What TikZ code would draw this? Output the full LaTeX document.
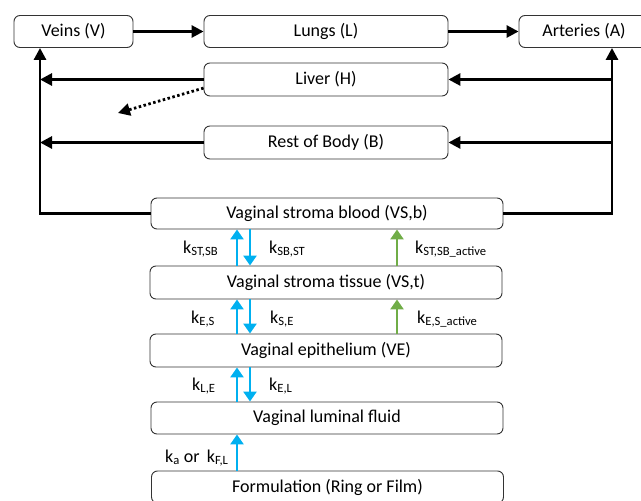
\documentclass[tikz,border=0pt]{standalone}
\usepackage{fontspec}
\setmainfont{Carlito}
\usetikzlibrary{arrows.meta}
\definecolor{transferblue}{RGB}{0,176,240}
\definecolor{activegreen}{RGB}{112,173,71}
\begin{document}
\begin{tikzpicture}[x = 1pt, y = -1pt, line join = miter,
        compartment/.style={draw = black!80, line width = 0.9pt, rounded corners = 6pt, minimum height = 32pt, inner sep = 0pt, font = \fontsize{18}{22}\selectfont},
        flow/.style={line width = 2.8pt, -{Triangle[length = 12pt, width = 12pt]}},
        transfer/.style={transferblue, line width = 2.8pt, -{Triangle[length = 10pt, width = 13pt]}},
        active/.style={transfer, activegreen},
        rate/.style={anchor = base west, inner sep = 0pt, font = \fontsize{18}{22}\selectfont}]
        %
        \def\Wide{244pt}
        \def\Vaginal{352pt}
        %
        \useasboundingbox (0, 0) rectangle (641, 501);
        \clip (0, 0) rectangle (641, 501);

        % circulation
        \node [compartment, minimum width = 119pt] (veins) at (73.5, 31.5) {Veins (V)};
        \node [compartment, minimum width = \Wide] (lungs) at (326, 31.5) {Lungs (L)};
        \node [compartment, minimum width = 130pt] (arteries) at (584, 31.5) {Arteries (A)};
        \node [compartment, minimum width = \Wide, minimum height = 33pt] (liver) at (326, 79.5) {Liver (H)};
        \node [compartment, minimum width = \Wide, minimum height = 33pt] (body) at (326, 142.5) {Rest of Body (B)};

        % vaginal compartments
        \node [compartment, minimum width = \Vaginal, minimum height = 31pt] (vsb) at (327, 213.5) {Vaginal stroma blood (VS,b)};
        \node [compartment, minimum width = \Vaginal, minimum height = 33pt] (vst) at (326, 282.5) {Vaginal stroma tissue (VS,t)};
        \node [compartment, minimum width = \Vaginal, minimum height = 33pt] (ve) at (326, 350.5) {Vaginal epithelium (VE)};
        \node [compartment, minimum width = \Vaginal] (lum) at (327, 418) {Vaginal luminal fluid};
        \node [compartment, minimum width = \Vaginal] (form) at (327.5, 487) {Formulation (Ring or Film)};

        \coordinate (vx) at (40, 0);
        \coordinate (ax) at (612, 0);
        \coordinate (ux) at (237, 0);
        \coordinate (dx) at (250, 0);
        \coordinate (gx) at (397, 0);
        \coordinate (elim) at (118, 113);

        \draw [flow] (veins) -- (lungs);
        \draw [flow] (lungs) -- (arteries);
        \draw [flow] (vsb.west) -| (vx |- veins.south);
        \draw [flow] (vsb.east) -| (ax |- arteries.south);
        \foreach \organ in {liver, body}
        {
            \draw [flow] (\organ.west) -- (vx |- \organ.west);
            \draw [flow] (ax |- \organ.east) -- (\organ.east);
        }
        \draw [flow, dash pattern = on 2.5pt off 2.5pt, line cap = butt] (liver.184) -- (elim);

        % exchange
        \foreach \src/\dst in {vst/vsb, ve/vst, lum/ve}
        {
            \draw [transfer] (\src.north -| ux) -- (\dst.south -| ux);
            \draw [transfer] (\dst.south -| dx) -- (\src.north -| dx);
        }
        \draw [transfer] (form.north -| ux) -- (lum.south -| ux);
        \draw [active] (vst.north -| gx) -- (vsb.south -| gx);
        \draw [active] (ve.north -| gx) -- (vst.south -| gx);

        \foreach \nm/\x/\y/\txt in {kstsb/183/253/{k\textsubscript{ST,SB}}, ksbst/269/253/{k\textsubscript{SB,ST}}, kactsb/415/253/{k\textsubscript{ST,SB\_active}},
                                    kes/191/323/{k\textsubscript{E,S}}, kse/270/323/{k\textsubscript{S,E}}, kacte/417/323/{k\textsubscript{E,S\_active}},
                                    kle/192/390/{k\textsubscript{L,E}}, kel/269/390/{k\textsubscript{E,L}}, kfl/165/462/{k\textsubscript{a} or\, k\textsubscript{F,L}}}
        {
            \node [rate] (\nm) at (\x, \y) {\txt};
        }
    \end{tikzpicture}
\end{document}
